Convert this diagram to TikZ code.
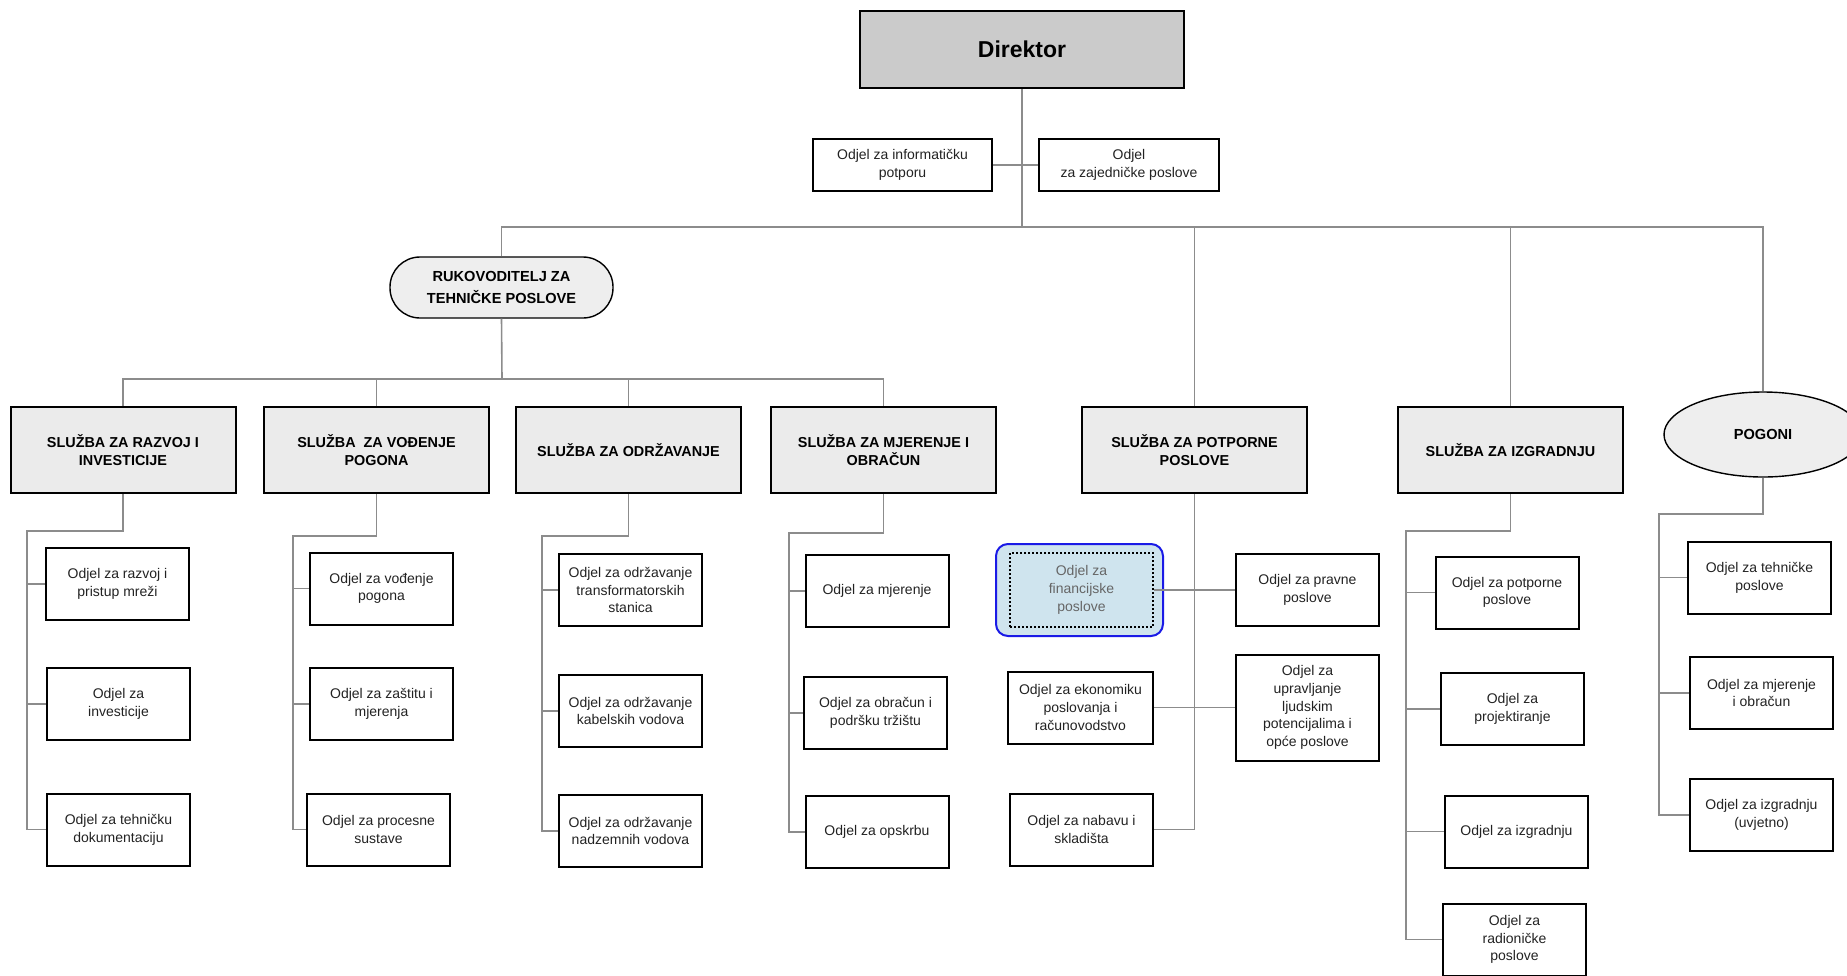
\documentclass[tikz,border=0pt]{standalone}
\usepackage{fontspec}
\setmainfont{Liberation Sans}
\usetikzlibrary{shapes.geometric}
\definecolor{linegray}{HTML}{8C8C8C}
\definecolor{boxgray}{HTML}{EBEBEB}
\definecolor{dirgray}{HTML}{CBCBCB}
\definecolor{pillgray}{HTML}{EEEEEE}
\definecolor{finfill}{HTML}{CFE4EE}
\definecolor{finblue}{HTML}{1A1AE6}
\definecolor{textgray}{HTML}{222222}

\begin{document}
\begin{tikzpicture}[x=0.5pt,y=-0.5pt,
		link/.style={draw=linegray,line width=0.8pt},
		box/.style={draw=black,line width=1pt,inner sep=1pt,align=center},
		odjel/.style={box,minimum width=71.5pt,minimum height=36pt,text=textgray,
			font=\fontsize{7}{8.85}\selectfont},
		sluzba/.style={box,fill=boxgray,minimum width=112.5pt,minimum height=43pt,
			font=\fontsize{7.2}{9}\selectfont\bfseries},
		chief/.style={box,fill=dirgray,minimum width=162pt,minimum height=38.5pt,
			font=\fontsize{11.5}{13}\selectfont\bfseries},
		pill/.style={draw=black,line width=0.7pt,fill=pillgray,rounded corners=15pt,
			minimum width=111.5pt,minimum height=30.5pt,align=center,
			font=\fontsize{7.3}{10.8}\selectfont\bfseries},
		plant/.style={ellipse,draw=black,line width=0.7pt,fill=pillgray,inner sep=0pt,
			minimum width=99pt,minimum height=42.5pt,font=\fontsize{7.3}{9}\selectfont\bfseries},
		finframe/.style={draw=finblue,line width=1pt,fill=finfill,rounded corners=6pt,
			minimum width=83.5pt,minimum height=46pt}]
	\useasboundingbox (0,0) rectangle (1847,975);
	% top
	\node[chief] (dir) at (1022,49.5) {Direktor};
	\node[odjel,minimum width=89.5pt,minimum height=26pt] (info) at (902.5,165) {Odjel za informatičku\\potporu};
	\node[odjel,minimum width=90pt,minimum height=26pt] (zaj) at (1129,165) {Odjel\\za zajedničke poslove};
	\node[pill] (ruk) at (501.5,287.5) {RUKOVODITELJ ZA\\TEHNIČKE POSLOVE};
	% sluzbe
	\node[sluzba] (s1) at (123,450) {SLUŽBA ZA RAZVOJ I\\INVESTICIJE};
	\node[sluzba] (s2) at (376.5,450) {SLUŽBA\ \ ZA VOĐENJE\\POGONA};
	\node[sluzba] (s3) at (628.5,450) {SLUŽBA ZA ODRŽAVANJE};
	\node[sluzba] (s4) at (883.5,450) {SLUŽBA ZA MJERENJE I\\OBRAČUN};
	\node[sluzba] (s5) at (1194.5,450) {SLUŽBA ZA POTPORNE\\POSLOVE};
	\node[sluzba] (s6) at (1510.5,450) {SLUŽBA ZA IZGRADNJU};
	\node[plant] (pog) at (1763,434.5) {POGONI};
	% odjeli
	\node[odjel] (o11) at (117.5,584) {Odjel za razvoj i\\pristup mreži};
	\node[odjel] (o12) at (118.5,704) {Odjel za\\investicije};
	\node[odjel] (o13) at (118.5,829.5) {Odjel za tehničku\\dokumentaciju};
	\node[odjel] (o21) at (381.5,588.5) {Odjel za vođenje\\pogona};
	\node[odjel] (o22) at (381.5,704) {Odjel za zaštitu i\\mjerenja};
	\node[odjel] (o23) at (378.5,829.5) {Odjel za procesne\\sustave};
	\node[odjel] (o31) at (630.5,590) {Odjel za održavanje\\transformatorskih\\stanica};
	\node[odjel] (o32) at (630.5,711) {Odjel za održavanje\\kabelskih vodova};
	\node[odjel] (o33) at (630.5,831) {Odjel za održavanje\\nadzemnih vodova};
	\node[odjel] (o41) at (877,591) {Odjel za mjerenje};
	\node[odjel] (o42) at (875.5,713) {Odjel za obračun i\\podršku tržištu};
	\node[odjel] (o43) at (877,832) {Odjel za opskrbu};
	\node[finframe] (finout) at (1079.5,590) {};
	\node[odjel,densely dotted,fill=finfill,text=black!60,minimum height=37pt] (fin) at (1081.5,590) {Odjel za\\financijske\\poslove};
	\node[odjel] (prav) at (1307.5,590) {Odjel za pravne\\poslove};
	\node[odjel,minimum width=72.5pt] (ekon) at (1080.5,707.5) {Odjel za ekonomiku\\poslovanja i\\računovodstvo};
	\node[odjel,minimum height=53pt] (upr) at (1307.5,707.5) {Odjel za\\upravljanje\\ljudskim\\potencijalima i\\opće poslove};
	\node[odjel] (nab) at (1081.5,829.5) {Odjel za nabavu i\\skladišta};
	\node[odjel] (o61) at (1507,592.5) {Odjel za potporne\\poslove};
	\node[odjel] (o62) at (1512.5,709) {Odjel za\\projektiranje};
	\node[odjel] (o63) at (1516.5,831.5) {Odjel za izgradnju};
	\node[odjel] (o64) at (1514.5,939.5) {Odjel za\\radioničke\\poslove};
	\node[odjel] (o71) at (1759.5,577.5) {Odjel za tehničke\\poslove};
	\node[odjel] (o72) at (1761.5,693) {Odjel za mjerenje\\i obračun};
	\node[odjel] (o73) at (1761.5,815) {Odjel za izgradnju\\(uvjetno)};
	% veze
	\coordinate (b1) at (1022,227);
	\coordinate (b2) at (502,379);
	\draw[link] (info.east) -- (zaj.west);
	\draw[link] (dir.south) -- (b1);
	\draw[link] (ruk.north) |- (b1) -| (pog.north);
	\foreach \X in {5,6}
		{\draw[link] (s\X.north) -- (s\X.north |- b1);}
	\draw[link] (ruk.south) -- (b2);
	\draw[link] (s1.north) |- (b2) -| (s4.north);
	\foreach \X in {2,3}
		{\draw[link] (s\X.north) -- (s\X.north |- b2);}
	\coordinate (k1) at (27,531);
	\coordinate (k2) at (293,536);
	\coordinate (k3) at (542,536);
	\coordinate (k4) at (789,533);
	\coordinate (k6) at (1406,531);
	\coordinate (k7) at (1659,514);
	\foreach \X in {1,2,3,4}
		{\draw[link] (s\X.south) |- (k\X) |- (o\X3.west);
		\foreach \Y in {1,2}
			\draw[link] (k\X) |- (o\X\Y.west);}
	\draw[link] (s6.south) |- (k6) |- (o64.west);
	\foreach \Y in {1,2,3}
		{\draw[link] (k6) |- (o6\Y.west);}
	\draw[link] (pog.south) |- (k7) |- (o73.west);
	\foreach \Y in {1,2}
		{\draw[link] (k7) |- (o7\Y.west);}
	\draw[link] (s5.south) |- (nab.east);
	\draw[link] (fin.east) -- (prav.west);
	\draw[link] (ekon.east) -- (upr.west);
\end{tikzpicture}
\end{document}
